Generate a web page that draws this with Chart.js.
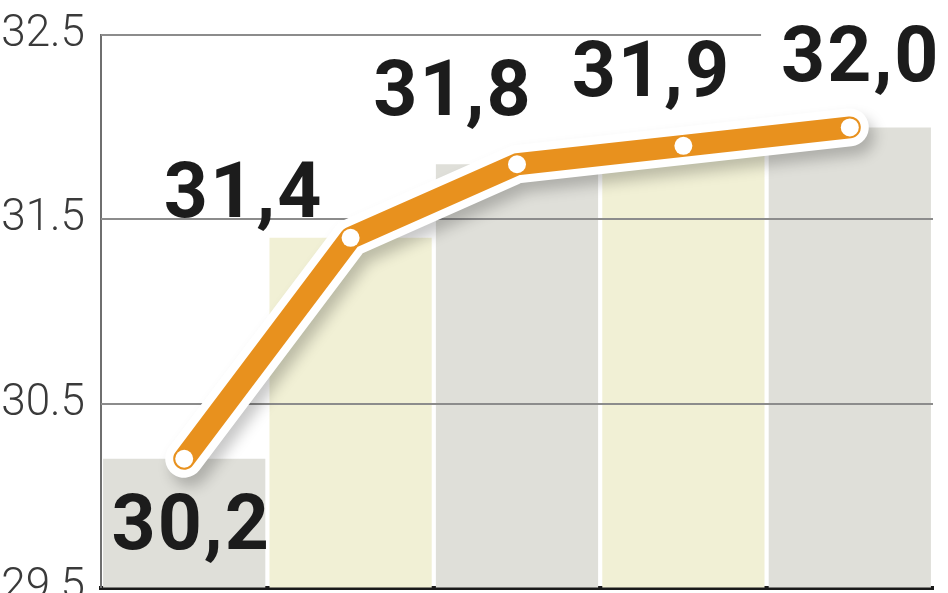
<!DOCTYPE html>
<html>
<head>
<meta charset="utf-8">
<script src="https://cdn.jsdelivr.net/npm/chart.js@4/dist/chart.umd.min.js"></script>
<style>
  html, body { margin: 0; padding: 0; background: #fff; overflow: hidden; }
  #wrap { width: 948px; height: 637px; position: relative; top: -7px; }
</style>
</head>
<body>
<div id="wrap"><canvas id="myChart"></canvas></div>
<script>
const categories = ['1', '2', '3', '4', '5'];
const values = [30.2, 31.4, 31.8, 31.9, 32.0];
const valueLabels = ['30,2', '31,4', '31,8', '31,9', '32,0'];
const yTicks = [29.5, 30.5, 31.5, 32.5];

const orange = '#e8911e';
const barColors = ['#dfdfd9', '#f1f0d5', '#dfdfd9', '#f1f0d5', '#dfdfd9'];

// gridlines go over the bars but under the line
const gridOverBars = {
  id: 'gridOverBars',
  afterDatasetDraw(chart, args) {
    if (args.index !== 0) return;
    const ctx = chart.ctx, area = chart.chartArea, y = chart.scales.y;
    ctx.save();
    ctx.strokeStyle = '#8c8c8c';
    ctx.lineWidth = 2;
    y.ticks.forEach(t => {
      const py = Math.round(y.getPixelForValue(t.value));
      if (py >= area.bottom - 2) return;
      ctx.beginPath();
      ctx.moveTo(area.left, py);
      ctx.lineTo(area.right, py);
      ctx.stroke();
    });
    ctx.restore();
  }
};

// soft shadow under the white outline of the line
const lineShadow = {
  id: 'lineShadow',
  beforeDatasetDraw(chart, args) {
    if (args.index !== 1) return;
    const ctx = chart.ctx;
    ctx.save();
    ctx.shadowColor = 'rgba(0,0,0,0.22)';
    ctx.shadowBlur = 14;
    ctx.shadowOffsetX = 6;
    ctx.shadowOffsetY = 9;
  },
  afterDatasetDraw(chart, args) {
    if (args.index !== 1) return;
    chart.ctx.restore();
  }
};

// big value labels next to the points
const valueText = {
  id: 'valueText',
  afterDraw(chart) {
    const ctx = chart.ctx;
    const meta = chart.getDatasetMeta(2);
    const offsets = [[7, 90], [-107, -21], [-64, -49], [-32, -50], [11, -46]];
    ctx.save();
    ctx.letterSpacing = '2px';
    ctx.font = 'bold 77px Roboto';
    ctx.textAlign = 'center';
    ctx.textBaseline = 'alphabetic';
    meta.data.forEach((pt, i) => {
      const x = pt.x + offsets[i][0];
      const y = pt.y + offsets[i][1];
      if (offsets[i][1] < 0) {
        const w = ctx.measureText(valueLabels[i]).width;
        ctx.fillStyle = '#fff';
        ctx.fillRect(x - w / 2 - 20, y - 56, w + 40, 56);
      }
      ctx.fillStyle = '#1c1c1c';
      ctx.fillText(valueLabels[i], x, y);
    });
    ctx.restore();
  }
};

const ctx = document.getElementById('myChart');
const myChart = new Chart(ctx, {
  data: {
    labels: categories,
    datasets: [
      {
        type: 'bar',
        data: values,
        backgroundColor: barColors,
        borderWidth: 0,
        barPercentage: 1,
        categoryPercentage: 0.975,
        order: 3
      },
      {
        type: 'line',
        data: values,
        borderColor: '#ffffff',
        borderWidth: 38,
        borderJoinStyle: 'round',
        borderCapStyle: 'round',
        pointRadius: 0,
        tension: 0,
        clip: false,
        order: 2
      },
      {
        type: 'line',
        data: values,
        borderColor: orange,
        borderWidth: 22,
        borderJoinStyle: 'round',
        borderCapStyle: 'round',
        pointRadius: 9,
        pointBackgroundColor: '#ffffff',
        pointBorderWidth: 0,
        tension: 0,
        clip: false,
        order: 1
      }
    ]
  },
  options: {
    responsive: true,
    maintainAspectRatio: false,
    animation: false,
    layout: { padding: { top: 17, right: 15, left: 0, bottom: 0 } },
    plugins: { legend: { display: false }, tooltip: { enabled: false } },
    scales: {
      x: {
        z: 1,
        grid: { display: false, drawTicks: false },
        ticks: { display: false },
        border: { display: true, color: '#1a1a1a', width: 4 }
      },
      y: {
        min: 29.5,
        max: 32.5,
        afterBuildTicks: s => { s.ticks = yTicks.map(v => ({ value: v })); },
        afterFit: s => { s.width = 101; },
        grid: { display: false, drawTicks: false },
        border: { display: true, color: '#6f6f6f', width: 2 },
        ticks: {
          padding: 16,
          color: '#3a3a3a',
          font: { family: 'Roboto', weight: 300, size: 44 },
          callback: v => Number(v).toFixed(1)
        }
      }
    }
  },
  plugins: [gridOverBars, lineShadow, valueText]
});
</script>
</body>
</html>
